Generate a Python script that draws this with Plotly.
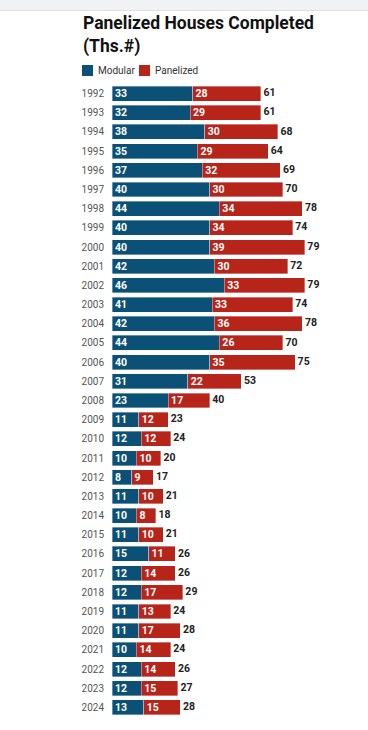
import plotly.graph_objects as go

years = [str(y) for y in range(1992, 2025)]
modular = [33, 32, 38, 35, 37, 40, 44, 40, 40, 42, 46, 41, 42, 44, 40, 31, 23,
           11, 12, 10, 8, 11, 10, 11, 15, 12, 12, 11, 11, 10, 12, 12, 13]
panelized = [28, 29, 30, 29, 32, 30, 34, 34, 39, 30, 33, 33, 36, 26, 35, 22, 17,
             12, 12, 10, 9, 10, 8, 10, 11, 14, 17, 13, 17, 14, 14, 15, 15]
totals = [61, 61, 68, 64, 69, 70, 78, 74, 79, 72, 79, 74, 78, 70, 75, 53, 40,
          23, 24, 20, 17, 21, 18, 21, 26, 26, 29, 24, 28, 24, 26, 27, 28]
series_names = ["Modular", "Panelized"]
colors = ["#0b5077", "#b72419"]
title_text = "Panelized Houses Completed<br>(Ths.#)"

W, H = 368, 730
L, R, T, B = 112, 0, 84, 13
PW = W - L - R
PH = H - T - B

def px_x(p):
    return (p - L) / PW

def px_y(p):
    return 1 - (p - T) / PH

fig = go.Figure()
for name, vals, col in zip(series_names, [modular, panelized], colors):
    fig.add_trace(go.Bar(
        y=years, x=vals, name=name, orientation="h",
        marker=dict(color=col, line=dict(width=0.6, color="rgba(255,255,255,0.6)")),
        text=[str(v) for v in vals], textposition="inside", insidetextanchor="start",
        textangle=0,
        textfont=dict(family="Roboto", size=10.5, color="white", weight="bold"),
        constraintext="none", cliponaxis=False, showlegend=False,
        hoverinfo="x+y+name",
    ))

fig.add_trace(go.Scatter(
    y=years, x=totals, mode="text", text=[" " + str(t) for t in totals],
    textposition="middle right",
    textfont=dict(family="Roboto", size=10.5, color="#222222", weight="bold"),
    showlegend=False, hoverinfo="skip", cliponaxis=False,
))

shapes = [
    dict(type="rect", xref="paper", yref="paper", x0=px_x(0), x1=px_x(W),
         y0=px_y(10), y1=px_y(0), fillcolor="#f1f2f4", line=dict(width=0), layer="above"),
    dict(type="line", xref="paper", yref="paper", x0=px_x(0), x1=px_x(W),
         y0=px_y(10.5), y1=px_y(10.5), line=dict(color="#dcdfe3", width=1)),
]
annotations = [dict(xref="paper", yref="paper", x=px_x(81), y=px_y(11),
                    text="<b>" + title_text + "</b>", showarrow=False,
                    xanchor="left", yanchor="top", align="left",
                    font=dict(family="Roboto", size=17.5, color="#111111"))]
leg = [(82, 96), (139, 153)]
for (sx, tx), name, col in zip(leg, series_names, colors):
    shapes.append(dict(type="rect", xref="paper", yref="paper",
                       x0=px_x(sx), x1=px_x(sx + 11), y0=px_y(76), y1=px_y(65),
                       fillcolor=col, line=dict(width=0)))
    annotations.append(dict(xref="paper", yref="paper", x=px_x(tx), y=px_y(70.5),
                            text=name, showarrow=False, xanchor="left", yanchor="middle",
                            font=dict(family="Roboto", size=10, color="#333333")))

fig.update_layout(
    width=W, height=H,
    margin=dict(l=L, r=R, t=T, b=B, pad=0),
    barmode="stack", bargap=0.22,
    paper_bgcolor="white", plot_bgcolor="white",
    xaxis=dict(range=[0, PW / 2.44], visible=False, fixedrange=True),
    yaxis=dict(range=[len(years) - 0.5, -0.5], autorange=False, showgrid=False,
               showline=False, ticks="", zeroline=False,
               tickfont=dict(family="Roboto", size=10, color="#555555"),
               ticklabelstandoff=7, fixedrange=True),
    shapes=shapes, annotations=annotations,
    showlegend=False,
)

fig.write_html("out.html", config={"displayModeBar": False},
               post_script="document.body.style.margin='0';document.body.style.overflow='hidden';")
